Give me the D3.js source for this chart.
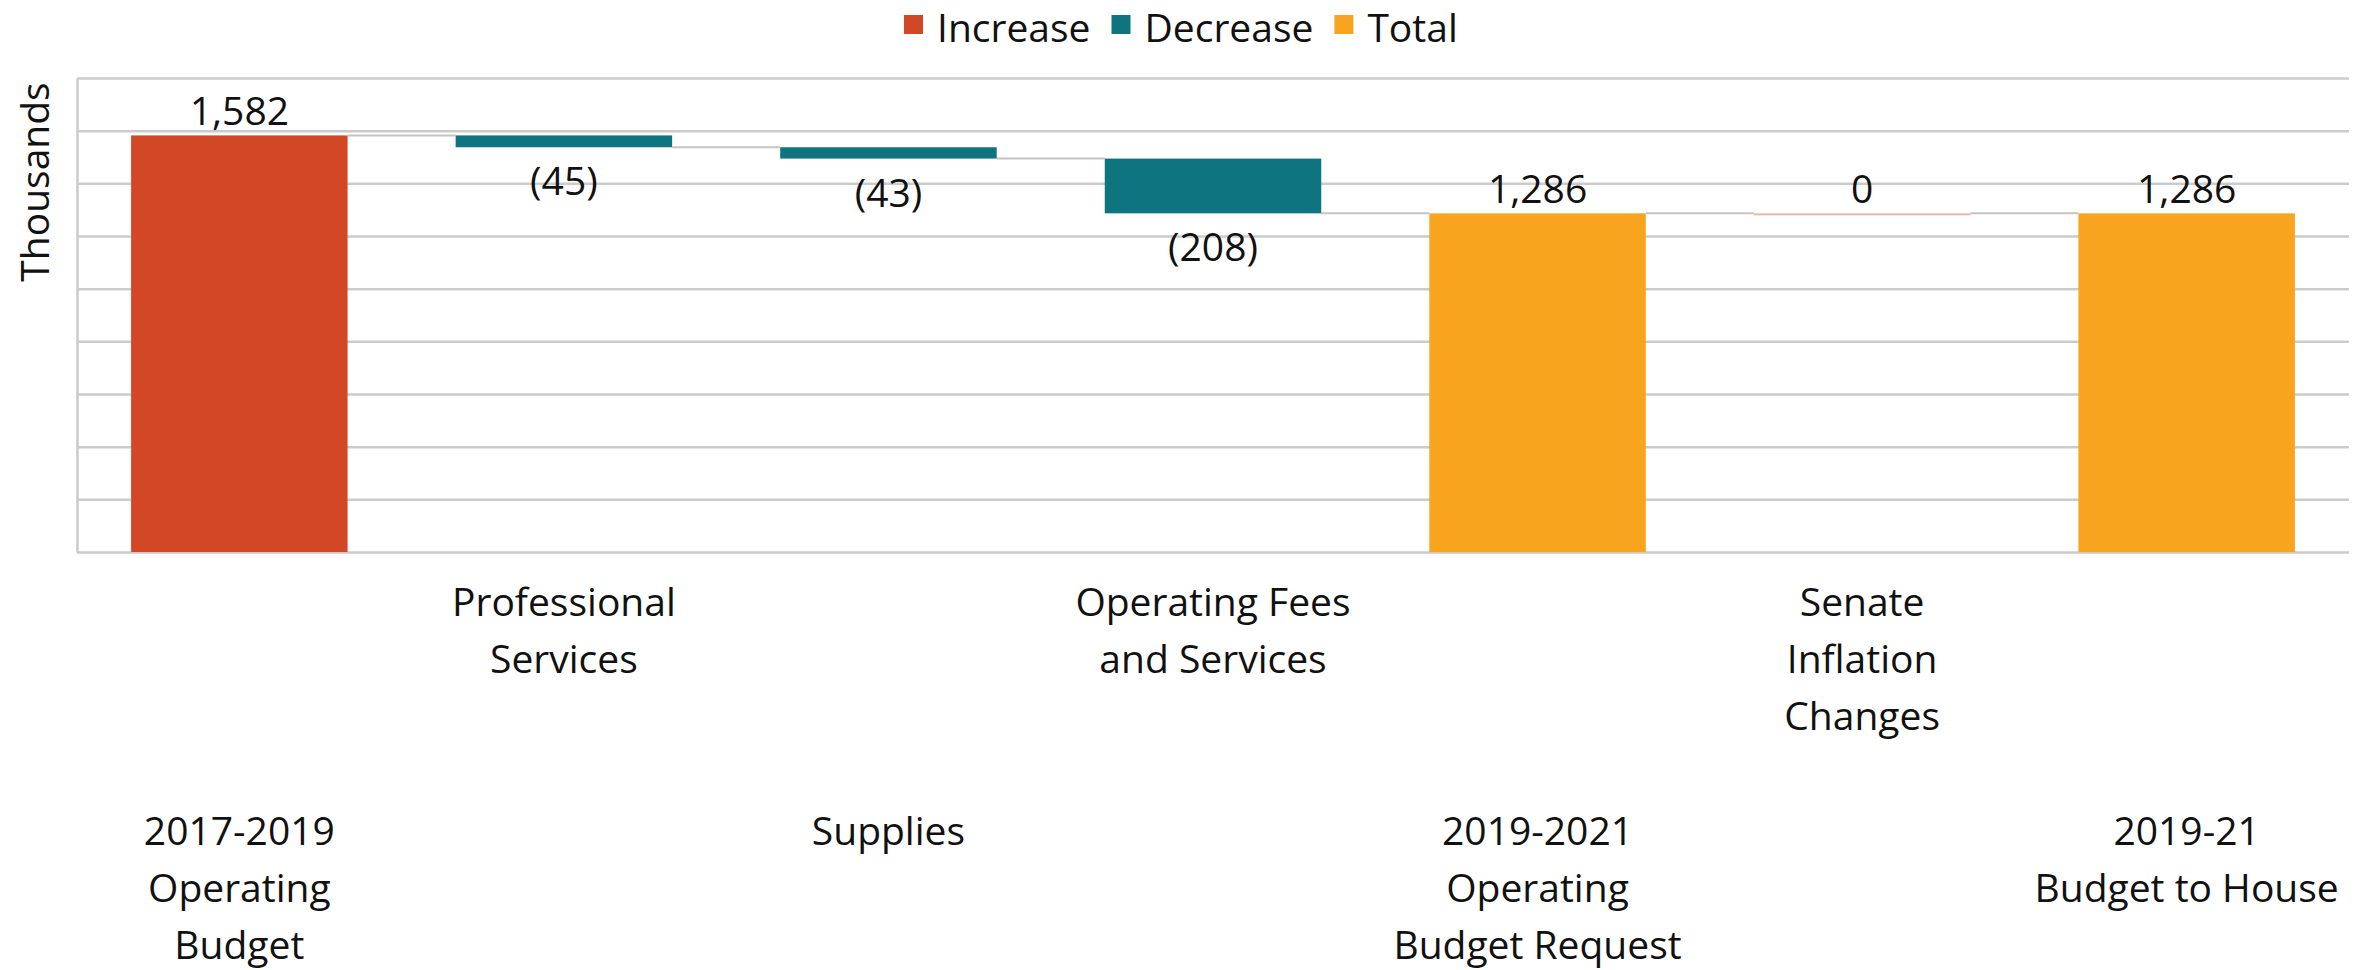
<!DOCTYPE html>
<html>
<head>
<meta charset="utf-8">
<script src="https://cdn.jsdelivr.net/npm/d3@7"></script>
<style>
  body { margin: 0; background: #fff; }
  text { font-family: "Open Sans", "Noto Sans", sans-serif; fill: #111; }
</style>
</head>
<body>
<script>
// waterfall data (thousands)
const categories = ["2017-2019 Operating Budget", "Professional Services", "Supplies",
  "Operating Fees and Services", "2019-2021 Operating Budget Request",
  "Senate Inflation Changes", "2019-21 Budget to House"];
const categoryLines = [
  ["2017-2019", "Operating", "Budget"],
  ["Professional", "Services"],
  ["Supplies"],
  ["Operating Fees", "and Services"],
  ["2019-2021", "Operating", "Budget Request"],
  ["Senate", "Inflation", "Changes"],
  ["2019-21", "Budget to House"]
];
const values = [1582, -45, -43, -208, 1286, 0, 1286];
const kinds = ["Increase", "Decrease", "Decrease", "Decrease", "Total", "Increase", "Total"];
const valueLabels = ["1,582", "(45)", "(43)", "(208)", "1,286", "0", "1,286"];
const yTicks = [0, 200, 400, 600, 800, 1000, 1200, 1400, 1600, 1800];
const legendItems = ["Increase", "Decrease", "Total"];

const colors = { Increase: "#D24827", Decrease: "#0D7480", Total: "#F9A41E" };

const w = 2379, h = 970;
const plotLeft = 77, plotRight = 2349, plotTop = 78, plotBottom = 552;

// running totals
let run = 0;
const steps = values.map((v, i) => {
  let start, end;
  if (kinds[i] === "Total") { start = 0; end = v; }
  else { start = run; end = run + v; }
  run = end;
  return { name: categories[i], kind: kinds[i], start, end, label: valueLabels[i], lines: categoryLines[i], i };
});

const x = d3.scaleBand()
  .domain(categories)
  .range([plotLeft, plotRight])
  .paddingInner(0.333)
  .paddingOuter(0.1667);

const y = d3.scaleLinear()
  .domain([0, 1800])
  .range([plotBottom, plotTop]);

const svg = d3.select("body").append("svg")
  .attr("width", w)
  .attr("height", h);

// gridlines
const grid = svg.append("g")
  .attr("transform", `translate(${plotLeft},0)`)
  .call(d3.axisLeft(y).tickValues(yTicks).tickSize(-(plotRight - plotLeft)).tickSizeOuter(0).tickFormat(""));
grid.selectAll(".tick line").attr("stroke", "#cbcbcb").attr("stroke-width", 2.5);
grid.select(".domain").attr("stroke", "#cbcbcb").attr("stroke-width", 2.5);

// connectors
svg.selectAll("line.conn")
  .data(steps.slice(0, -1))
  .enter()
  .append("line")
  .attr("class", "conn")
  .attr("x1", d => x(d.name) + x.bandwidth())
  .attr("x2", d => x(categories[d.i + 1]))
  .attr("y1", d => y(d.end))
  .attr("y2", d => y(d.end))
  .attr("stroke", "#c4c4c4")
  .attr("stroke-width", 2);

// bars
svg.selectAll("rect.bar")
  .data(steps)
  .enter()
  .append("rect")
  .attr("class", "bar")
  .attr("x", d => x(d.name))
  .attr("width", x.bandwidth())
  .attr("y", d => y(Math.max(d.start, d.end)))
  .attr("height", d => Math.max(2, Math.abs(y(d.start) - y(d.end))))
  .attr("fill", d => colors[d.kind])
  .attr("opacity", d => d.start === d.end ? 0.4 : 1);

// value labels
svg.selectAll("text.val")
  .data(steps)
  .enter()
  .append("text")
  .attr("class", "val")
  .attr("x", d => x(d.name) + x.bandwidth() / 2)
  .attr("y", d => d.kind === "Decrease" ? y(Math.min(d.start, d.end)) + 48 : y(Math.max(d.start, d.end)) - 10)
  .attr("text-anchor", "middle")
  .attr("font-size", 39)
  .text(d => d.label);

// category labels, staggered in two rows
const cat = svg.selectAll("text.cat")
  .data(steps)
  .enter()
  .append("text")
  .attr("class", "cat")
  .attr("text-anchor", "middle")
  .attr("font-size", 39);
cat.selectAll("tspan")
  .data(d => d.lines.map((t, k) => ({ t, k, d })))
  .enter()
  .append("tspan")
  .attr("x", o => x(o.d.name) + x.bandwidth() / 2)
  .attr("y", o => (o.d.i % 2 === 1 ? 616 : 845) + o.k * 57)
  .text(o => o.t);

// y axis title
svg.append("text")
  .attr("transform", "translate(49,182) rotate(-90)")
  .attr("text-anchor", "middle")
  .attr("font-size", 39)
  .text("Thousands");

// legend
const legend = svg.append("g");
let lx = 904;
legendItems.forEach(name => {
  legend.append("rect")
    .attr("x", lx).attr("y", 15)
    .attr("width", 19).attr("height", 19)
    .attr("fill", colors[name]);
  const t = legend.append("text")
    .attr("x", lx + 33).attr("y", 42)
    .attr("font-size", 39)
    .text(name);
  lx += 33 + t.node().getComputedTextLength() + 21;
});
</script>
</body>
</html>
